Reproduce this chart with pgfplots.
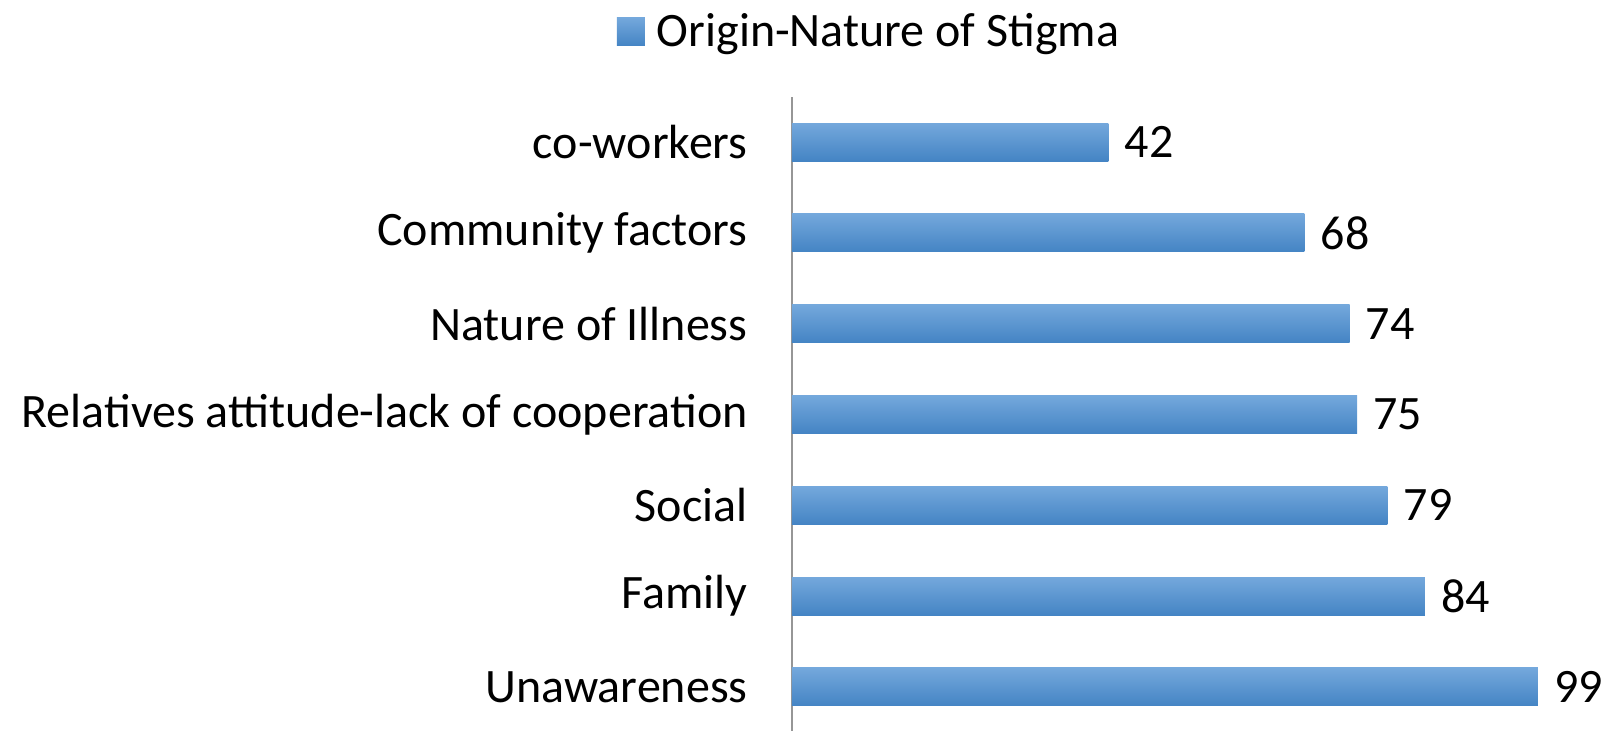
\documentclass[border=0pt]{standalone}
\usepackage{pgfplots}
\pgfplotsset{compat=1.18}
\usepackage{fontspec}
\setmainfont{Carlito}
\definecolor{bartop}{RGB}{116,168,220}
\definecolor{barmid}{RGB}{91,155,213}
\definecolor{barbot}{RGB}{68,132,196}
\definecolor{axgray}{RGB}{150,150,150}
\newcommand{\bigfont}{\fontsize{24}{28}\selectfont}
\begin{document}
\begin{tikzpicture}
\path[use as bounding box] (-396pt,1.2pt) rectangle (411.5pt,366.2pt);
\begin{axis}[
  at={(0pt,0pt)}, anchor=south west,
  scale only axis, width=376.75pt, height=317.9pt,
  xbar, bar width=19pt, bar shift=0pt,
  xmin=0, xmax=100, ymin=-0.5, ymax=6.5,
  hide x axis,
  axis y line*=left,
  y axis line style={draw=axgray, line width=0.7pt},
  ytick={0,1,2,3,4,5,6},
  yticklabels={Unawareness,Family,Social,Relatives attitude-lack of cooperation,Nature of Illness,Community factors,co-workers},
  major tick length=0pt,
  yticklabel style={font=\bigfont, inner sep=0pt, anchor=east},
  yticklabel shift=22pt,
  /pgf/number format/assume math mode=true,
  nodes near coords,
  nodes near coords style={font=\bigfont, anchor=west, inner sep=0pt, xshift=8pt},
  clip=false,
  legend style={at={(0.101,1.102)}, anchor=center, draw=none, fill=none,
    inner sep=0pt, font=\bigfont, nodes={inner sep=0pt}},
  legend image code/.code={
    \path[top color=bartop, bottom color=barbot] (0pt,-7pt) rectangle (14pt,7pt);
    \path (20pt,0pt);
  },
  mybar/.style={draw=none, top color=bartop, middle color=barmid, bottom color=barbot},
]
\addplot[mybar] coordinates {(99,0)};
\addlegendentry{Origin-Nature of Stigma}
\addplot[mybar, forget plot] coordinates {(84,1)};
\addplot[mybar, forget plot] coordinates {(79,2)};
\addplot[mybar, forget plot] coordinates {(75,3)};
\addplot[mybar, forget plot] coordinates {(74,4)};
\addplot[mybar, forget plot] coordinates {(68,5)};
\addplot[mybar, forget plot] coordinates {(42,6)};
\end{axis}
\end{tikzpicture}
\end{document}
